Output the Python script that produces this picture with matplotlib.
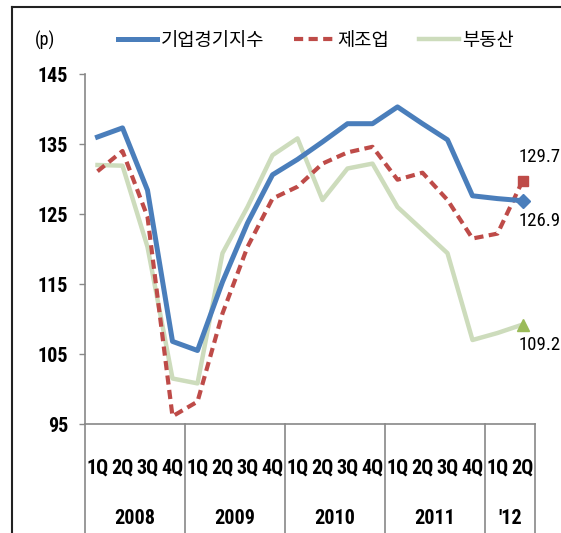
import matplotlib.pyplot as plt
from matplotlib.lines import Line2D
from matplotlib import font_manager as fm
import matplotlib.transforms as mtransforms

# pick a narrow face for the numbers if one is installed
avail = {f.name for f in fm.fontManager.ttflist}
narrow = next((f for f in ['Liberation Sans Narrow', 'Roboto Condensed', 'Open Sans Condensed',
                           'DejaVu Sans Condensed'] if f in avail), None)
num_family = [narrow, 'Noto Sans CJK KR'] if narrow else ['Noto Sans CJK KR']
plt.rcParams['font.family'] = num_family + ['DejaVu Sans']

##data (quarterly index, p)
quarters = ['1Q', '2Q', '3Q', '4Q'] * 4 + ['1Q', '2Q']
years = ['2008', '2009', '2010', '2011', "'12"]
year_sizes = [4, 4, 4, 4, 2]
names = ['기업경기지수', '제조업', '부동산']
bsi_all = [136.0, 137.3, 128.4, 106.8, 105.5, 115.3, 123.7, 130.6, 132.8,
           135.3, 137.9, 137.9, 140.3, 137.9, 135.6, 127.6, 127.2, 126.9]
bsi_manu = [131.1, 134.0, 124.6, 96.1, 98.2, 110.8, 120.3, 127.2, 128.9,
            132.2, 133.8, 134.6, 129.9, 130.9, 127.0, 121.5, 122.2, 129.7]
bsi_real = [132.0, 131.9, 120.3, 101.5, 100.8, 119.4, 126.0, 133.4, 135.8,
            127.0, 131.5, 132.2, 126.0, 122.7, 119.4, 107.0, 108.0, 109.2]
yticks = [95, 105, 115, 125, 135, 145]

W, H = 561, 533
fig = plt.figure(figsize=(W / 100, H / 100), dpi=100)
ax = fig.add_axes([85 / W, (H - 424) / H, 450 / W, 350 / H])

x = list(range(len(quarters)))
ax.plot(x, bsi_all, color='#4a7ebb', lw=3.6, label=names[0], zorder=4)
ax.plot(x, bsi_manu, color='#be4b48', lw=3.0, dashes=(2.2, 1.3), label=names[1], zorder=3)
ax.plot(x, bsi_real, color='#cddcbc', lw=3.2, label=names[2], zorder=2)

# end markers + labels
ax.plot(x[-1], bsi_all[-1], marker='D', ms=7, color='#4a7ebb', zorder=6)
ax.plot(x[-1], bsi_manu[-1], marker='s', ms=7.5, color='#be4b48', zorder=5)
ax.plot(x[-1], bsi_real[-1], marker='^', ms=9, color='#9bbb59', zorder=5)
lab_fs = 13.5 if narrow else 10.5
ax.annotate(f'{bsi_manu[-1]:.1f}', (x[-1], bsi_manu[-1]), xytext=(-3, 11),
            textcoords='offset points', ha='left', va='bottom', fontsize=lab_fs)
ax.annotate(f'{bsi_all[-1]:.1f}', (x[-1], bsi_all[-1]), xytext=(-3, -8),
            textcoords='offset points', ha='left', va='top', fontsize=lab_fs)
ax.annotate(f'{bsi_real[-1]:.1f}', (x[-1], bsi_real[-1]), xytext=(-3, -8),
            textcoords='offset points', ha='left', va='top', fontsize=lab_fs)

ax.set_xlim(-0.5, len(quarters) - 0.5)
ax.set_ylim(95, 145)
ax.set_yticks(yticks)
ax.set_yticklabels([str(t) for t in yticks], fontsize=14.5, fontweight='bold')
ax.tick_params(axis='y', length=4, width=1, color='#888888', pad=8)
ax.set_xticks(x)
ax.set_xticklabels(quarters, fontsize=14.5 if narrow else 11.5, fontweight='bold')
ax.tick_params(axis='x', length=0, pad=25)

for s in ['top', 'right']:
    ax.spines[s].set_visible(False)
for s in ['left', 'bottom']:
    ax.spines[s].set_color('#888888')
    ax.spines[s].set_linewidth(1.2)

# table-like category axis: separators and year labels
trans = mtransforms.blended_transform_factory(ax.transData, ax.transAxes)
edge = -0.5
for yr, n in zip(years, year_sizes):
    ax.text(edge + n / 2, -0.27, yr, transform=trans, ha='center', va='center',
            fontsize=14.5, fontweight='bold')
    edge += n
    ax.plot([edge, edge], [0, -0.32], transform=trans, color='#888888',
            lw=1.2, clip_on=False)
ax.plot([-0.5, -0.5], [0, -0.32], transform=trans, color='#888888', lw=1.2, clip_on=False)

ax.text(-0.09, 1.097, '(p)', transform=ax.transAxes, ha='center', va='center', fontsize=13)
ax.legend(loc='center', bbox_to_anchor=(0.513, 1.097), ncol=3, frameon=False,
          handlelength=2.1, handletextpad=0.2, columnspacing=1.6,
          prop={'family': ['Noto Sans CJK KR'], 'size': 13.5})

# outer frame (top and left only)
fig.add_artist(Line2D([12 / W, 1], [1 - 7 / H, 1 - 7 / H], color='#222222', lw=1.5))
fig.add_artist(Line2D([12 / W, 12 / W], [0, 1 - 7 / H], color='#222222', lw=1.5))

fig.savefig('out.png', dpi=100)
